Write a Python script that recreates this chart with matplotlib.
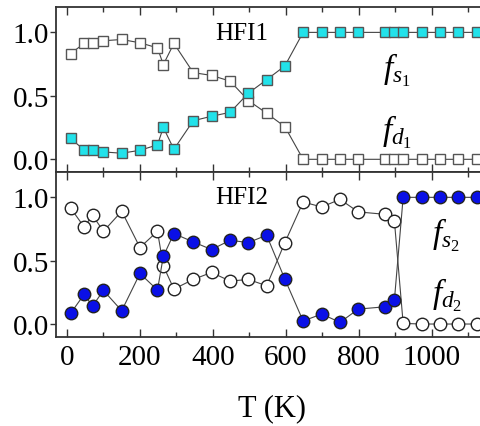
import matplotlib
matplotlib.use("Agg")
import matplotlib.pyplot as plt
from matplotlib.ticker import MultipleLocator, FixedLocator, FormatStrFormatter

plt.rcParams['font.family'] = ['Liberation Serif', 'DejaVu Serif']
plt.rcParams['mathtext.fontset'] = 'custom'
plt.rcParams['mathtext.rm'] = 'Liberation Serif'
plt.rcParams['mathtext.it'] = 'Liberation Serif:italic'

# Temperature (K)
T = [10, 47, 70, 100, 150, 200, 248, 264, 293, 346, 396, 447, 497, 547, 597,
     647, 698, 748, 798, 871, 897, 921, 972, 1022, 1072, 1122]

# HFI1
fs1 = [0.164, 0.074, 0.074, 0.058, 0.048, 0.071, 0.114, 0.251, 0.079, 0.304, 0.339,
       0.370, 0.521, 0.627, 0.736, 1.0, 1.0, 1.0, 1.0, 1.0, 1.0, 1.0, 1.0, 1.0, 1.0, 1.0]
fd1 = [0.833, 0.913, 0.913, 0.934, 0.944, 0.918, 0.878, 0.746, 0.913, 0.683, 0.661,
       0.616, 0.463, 0.363, 0.257, 0.0, 0.0, 0.0, 0.0, 0.0, 0.0, 0.0, 0.0, 0.0, 0.0, 0.0]

# HFI2
fs2 = [0.084, 0.234, 0.142, 0.265, 0.105, 0.399, 0.268, 0.535, 0.714, 0.648, 0.588,
       0.661, 0.643, 0.701, 0.354, 0.024, 0.079, 0.013, 0.118, 0.136, 0.189,
       1.0, 1.0, 1.0, 1.0, 1.0]
fd2 = [0.916, 0.766, 0.858, 0.732, 0.890, 0.604, 0.732, 0.459, 0.276, 0.352, 0.407,
       0.339, 0.352, 0.302, 0.643, 0.963, 0.924, 0.984, 0.885, 0.866, 0.814,
       0.005, 0.0, 0.0, 0.0, 0.0]

xticks = [0, 200, 400, 600, 800, 1000]
yticks = [0.0, 0.5, 1.0]

W, H = 481, 427
fig = plt.figure(figsize=(W / 100, H / 100), dpi=100)

left = 56 / W
width = 449 / W
ax1 = fig.add_axes([left, (H - 173) / H, width, 165 / H])
ax2 = fig.add_axes([left, (H - 337.7) / H, width, (337.7 - 173) / H])

line_kw = dict(color='#444444', lw=0.8)
for ax in (ax1, ax2):
    ax.set_xlim(-30, 1200)
    ax.set_ylim(-0.1, 1.2)
    ax.xaxis.set_major_locator(FixedLocator(xticks))
    ax.xaxis.set_minor_locator(MultipleLocator(100))
    ax.yaxis.set_major_locator(FixedLocator(yticks))
    ax.tick_params(axis='x', which='both', direction='in', top=True, bottom=True,
                   color='#333333', width=1.0)
    ax.tick_params(axis='x', which='major', length=6, labelsize=21, pad=5)
    ax.tick_params(axis='x', which='minor', length=3.5)
    ax.tick_params(axis='y', which='major', direction='out', length=4, labelsize=21,
                   pad=1, color='#333333', width=1.0)
    for s in ax.spines.values():
        s.set_linewidth(1.3)
        s.set_color('#333333')
    ax.yaxis.set_major_formatter(FormatStrFormatter('%.1f'))

ax1.tick_params(axis='x', labelbottom=False)

ax1.plot(T, fd1, marker='s', ms=7.5, mfc='white', mec='#555555', mew=1.0, **line_kw)
ax1.plot(T, fs1, marker='s', ms=7.5, mfc='#22E2EA', mec='#555555', mew=1.0, **line_kw)

ax2.plot(T, fd2, marker='o', ms=9, mfc='white', mec='#222222', mew=1.0, **line_kw)
ax2.plot(T, fs2, marker='o', ms=9, mfc='#0A10E6', mec='#222222', mew=1.0, **line_kw)

ax2.set_xlabel('T (K)', fontsize=22)
ax2.xaxis.set_label_coords((272 - 56) / 449, (337.7 - 394) / 164.7)

fig.text(242 / W, 1 - 34 / H, 'HFI1', fontsize=18, ha='center', va='center')
fig.text(242 / W, 1 - 198 / H, 'HFI2', fontsize=18, ha='center', va='center')
fig.text(397 / W, 1 - 70 / H, r'$f_{s_1}$', fontsize=24, ha='center', va='center')
fig.text(397 / W, 1 - 132 / H, r'$f_{d_1}$', fontsize=24, ha='center', va='center')
fig.text(446 / W, 1 - 235 / H, r'$f_{s_2}$', fontsize=24, ha='center', va='center')
fig.text(447 / W, 1 - 295 / H, r'$f_{d_2}$', fontsize=24, ha='center', va='center')

fig.savefig('out.png', dpi=100)
